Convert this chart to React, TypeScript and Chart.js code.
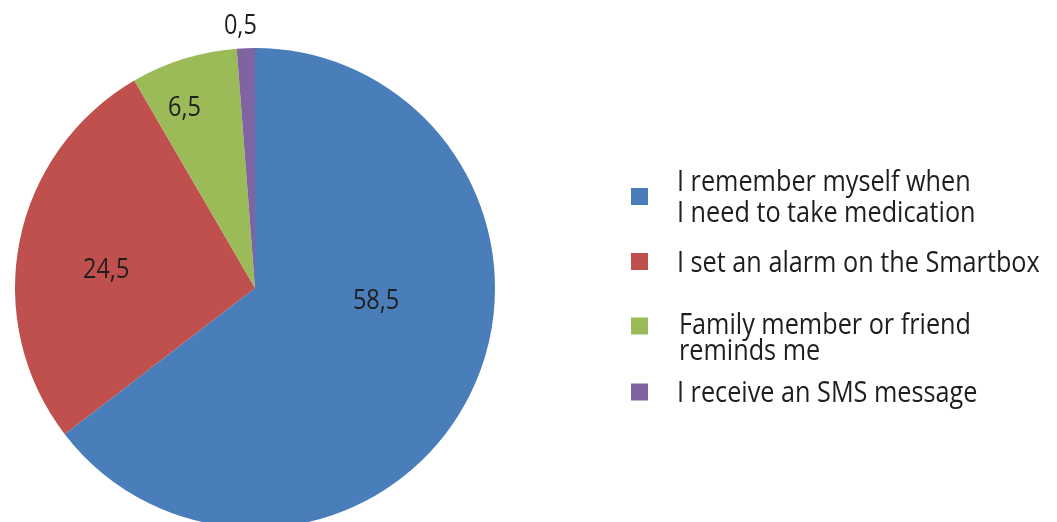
import React, { useEffect, useRef } from "react";
import { Chart, registerables } from "chart.js";

Chart.register(...registerables);

// ---- data ----
const categories: string[][] = [
  ["I remember myself when", "I need to take medication"],
  ["I set an alarm on the Smartbox"],
  ["Family member or friend", "reminds me"],
  ["I receive an SMS message"],
];
const sliceValues: number[] = [58.5, 24.5, 6.5, 1.1];
const valueLabels: string[] = ["58,5", "24,5", "6,5", "0,5"];
const colors: string[] = ["#4A7EBB", "#C0504D", "#9BBB59", "#8064A2"];

// ---- label / legend layout (styling only) ----
const labelRadiusFactor = [0.507, 0.625, 0.81, 1.097];
const labelAngleShiftDeg = [-20.6, -4, -4, -1];
const legendSquareCenters = [196.5, 261.5, 326, 392];
const legendBaselines: number[][] = [[191, 222], [272], [334, 360], [402]];
const FONT = '"Open Sans", "Noto Sans", sans-serif';
const SQUEEZE = 0.87;

function drawText(ctx: CanvasRenderingContext2D, text: string, x: number, y: number, align: "left" | "center") {
  ctx.save();
  ctx.translate(x, y);
  ctx.scale(SQUEEZE, 1);
  ctx.textAlign = align;
  ctx.fillText(text, 0, 0);
  ctx.restore();
}

const overlayPlugin = {
  id: "overlay",
  afterDraw(chart: any) {
    const ctx: CanvasRenderingContext2D = chart.ctx;
    const meta = chart.getDatasetMeta(0);
    ctx.save();
    ctx.fillStyle = "#1e1e1e";
    ctx.textBaseline = "middle";
    ctx.font = `27px ${FONT}`;
    meta.data.forEach((arc: any, i: number) => {
      const p = arc.getProps(["x", "y", "startAngle", "endAngle", "outerRadius"], true);
      const mid = (p.startAngle + p.endAngle) / 2 + (labelAngleShiftDeg[i] * Math.PI) / 180;
      const r = p.outerRadius * labelRadiusFactor[i];
      drawText(ctx, valueLabels[i], p.x + r * Math.cos(mid), p.y + r * Math.sin(mid) + 1, "center");
    });
    // legend
    ctx.textBaseline = "alphabetic";
    ctx.font = `29px ${FONT}`;
    categories.forEach((lines, i) => {
      ctx.fillStyle = colors[i];
      const c = legendSquareCenters[i];
      ctx.fillRect(631, c - 8.5, 17, 17);
      ctx.fillStyle = "#1e1e1e";
      lines.forEach((ln, j) => {
        drawText(ctx, ln, i === 2 ? 679 : 677, legendBaselines[i][j], "left");
      });
    });
    ctx.restore();
  },
};

export default function App() {
  const ref = useRef<HTMLCanvasElement | null>(null);
  useEffect(() => {
    if (!ref.current) return;
    const chart = new Chart(ref.current, {
      type: "pie",
      data: {
        labels: categories.map((l) => l.join(" ")),
        datasets: [
          {
            data: sliceValues,
            backgroundColor: colors,
            borderWidth: 0,
          },
        ],
      },
      options: {
        animation: false,
        responsive: false,
        devicePixelRatio: 1,
        layout: { padding: { left: 15, right: 562, top: 48, bottom: 48 } },
        plugins: {
          legend: { display: false },
          tooltip: { enabled: false },
        },
      },
      plugins: [overlayPlugin],
    });
    return () => chart.destroy();
  }, []);
  return (
    <div style={{ position: "fixed", left: 0, top: 0, width: 1057, height: 522, overflow: "hidden", background: "#fff" }}>
      <canvas ref={ref} width={1057} height={576} style={{ display: "block", width: 1057, height: 576 }} />
    </div>
  );
}
